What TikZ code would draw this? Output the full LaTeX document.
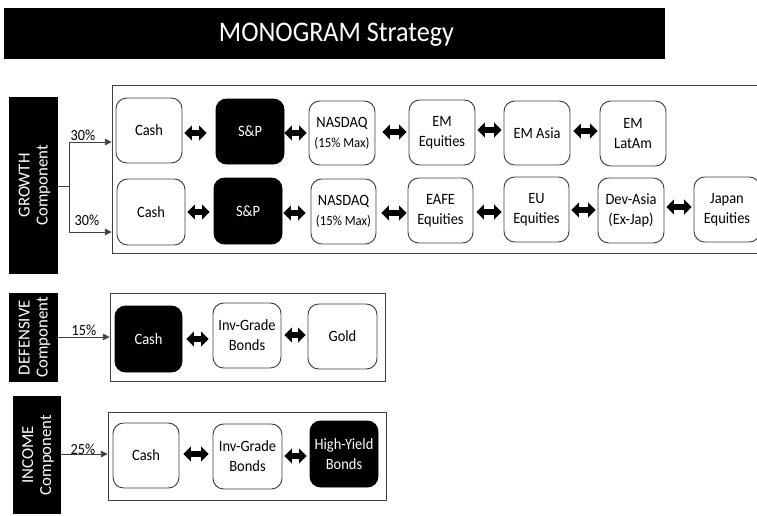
\documentclass[tikz,border=0pt]{standalone}
\usepackage{fontspec}
\setmainfont[FakeStretch=0.92]{Carlito}
\newfontfamily\bandfamily{Carlito}
\usetikzlibrary{arrows.meta}
\definecolor{edgegray}{HTML}{404040}
\tikzset{
  whitebox/.style={draw=edgegray,line width=0.7pt,fill=white,rounded corners=8pt,align=center,font=\fontsize{11.8}{15}\selectfont,inner sep=0pt},
  blackbox/.style={whitebox,draw=black,fill=black,text=white},
  frame/.style={draw=edgegray,line width=0.65pt,fill=none},
  band/.style={fill=black,text=white,align=center,inner sep=0pt,font=\bandfamily\fontsize{12.6}{13.5}\selectfont},
  blk/.style={line width=4.4pt,{Triangle[length=5.5pt,width=11pt]}-{Triangle[length=5.5pt,width=11pt]},black},
  feed/.style={draw=edgegray,line width=0.6pt,-{Triangle[length=5pt,width=5pt]}},
  pct/.style={font=\fontsize{11.6}{14}\selectfont,inner sep=0pt},
}
% name, left, top, right, bottom, style, text
\newcommand{\bx}[7]{\node[#6,minimum width={(#4-#2)*0.75pt},minimum height={(#5-#3)*0.75pt}] (#1) at ({(#2+#4)/2},{(#3+#5)/2}) {#7};}
% from, to, y, gap from, gap to (in px)
\newcommand{\dbl}[5]{\draw[blk,shorten <={#4*0.75pt},shorten >={#5*0.75pt}] (#1.east |- 0,#3) -- (#2.west |- 0,#3);}
\newcommand{\smalltxt}[1]{{\fontsize{10.4}{13}\selectfont #1}}
\begin{document}
\begin{tikzpicture}[x=0.75pt,y=-0.75pt]
\useasboundingbox (0,0) rectangle (757,515);
\clip (0,0) rectangle (757,515);
\bx{title}{4}{8}{665}{59}{band,font=\fontsize{21.3}{24}\selectfont,text depth=0pt,text height=12.2pt}{\hspace*{3pt}MONOGRAM Strategy}
% growth
\bx{gframe}{112}{85}{770}{253}{frame}{}
\bx{growth}{9}{97}{58}{274}{band}{}
\node[band,rotate=90,yshift=-0.8pt] (growthtxt) at (growth.center) {GROWTH\\Component};
\bx{c1}{116}{98}{182}{163}{whitebox}{Cash}
\bx{s1}{216}{99}{284}{164}{blackbox}{S\&P}
\bx{n1}{309}{101}{375}{165}{whitebox}{NASDAQ\\\smalltxt{(15\% Max)}}
\bx{e1}{409}{100}{475}{165}{whitebox}{EM\\Equities}
\bx{a1}{504}{101}{570}{165}{whitebox}{EM Asia}
\bx{l1}{600}{101}{666}{166}{whitebox}{EM\\LatAm}
\bx{c2}{117}{179}{185}{245}{whitebox}{Cash}
\bx{s2}{214}{178}{282}{244}{blackbox}{S\&P}
\bx{n2}{311}{179}{376}{244}{whitebox}{NASDAQ\\\smalltxt{(15\% Max)}}
\bx{e2}{408}{178}{473}{243}{whitebox}{EAFE\\Equities}
\bx{u2}{504}{177}{569}{242}{whitebox}{EU\\Equities}
\bx{d2}{598}{178}{664}{243}{whitebox}{Dev-Asia\\(Ex-Jap)}
\bx{j2}{694}{177}{760}{242}{whitebox}{Japan\\Equities}
\dbl{c1}{s1}{133}{2}{9}
\dbl{s1}{n1}{133}{0}{2}
\dbl{n1}{e1}{132}{7}{2}
\dbl{e1}{a1}{130}{2}{2}
\dbl{a1}{l1}{131}{3}{2}
\dbl{c2}{s2}{212}{2}{4}
\dbl{s2}{n2}{213}{1}{5}
\dbl{n2}{e2}{213}{5}{1}
\dbl{e2}{u2}{212}{3}{2}
\dbl{u2}{d2}{210}{2}{2}
\dbl{d2}{j2}{207}{2}{2}
\coordinate (gj) at (69,186);
\draw[feed,-] (growth.east |- gj) -- (gj);
\draw[feed] (gj) |- (gframe.west |- 0,142);
\draw[feed] (gj) |- (gframe.west |- 0,232);
\node[pct] (p30a) at (83,135) {30\%};
\node[pct] (p30b) at (87,220) {30\%};
% defensive
\bx{dframe}{110}{293}{385}{381}{frame}{}
\bx{defensive}{9}{293}{58}{382}{band}{}
\node[band,rotate=90,yshift=-0.8pt] (deftxt) at (defensive.center) {DEFENSIVE\\Component};
\bx{dc}{115}{306}{182}{372}{blackbox}{Cash}
\bx{db}{213}{303}{281}{368}{whitebox}{Inv-Grade\\Bonds}
\bx{dg}{308}{304}{377}{369}{whitebox}{Gold}
\dbl{dc}{db}{339}{4}{4}
\dbl{db}{dg}{335}{3}{2}
\draw[feed] (defensive.east |- 0,337) -- (dframe.west |- 0,337);
\node[pct] (p15) at (84,330) {15\%};
% income
\bx{iframe}{108}{412}{386}{500}{frame}{}
\bx{income}{13}{396}{61}{514}{band}{}
\node[band,rotate=90,yshift=-0.8pt] (inctxt) at (income.center) {INCOME\\Component};
\bx{ic}{113}{423}{179}{488}{whitebox}{Cash}
\bx{ib}{213}{424}{282}{489}{whitebox}{Inv-Grade\\Bonds}
\bx{ih}{310}{421}{378}{487}{blackbox}{High-Yield\\Bonds}
\dbl{ic}{ib}{454}{4}{4}
\dbl{ib}{ih}{456}{2}{3}
\draw[feed] (income.east |- 0,454) -- (iframe.west |- 0,454);
\node[pct] (p25) at (83,449) {25\%};
\end{tikzpicture}
\end{document}
